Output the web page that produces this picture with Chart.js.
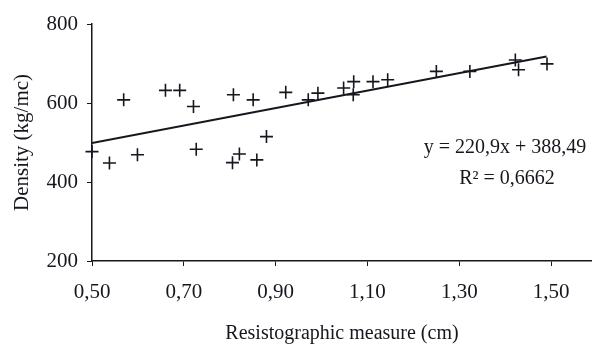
<!DOCTYPE html>
<html>
<head>
<meta charset="utf-8">
<script src="https://cdn.jsdelivr.net/npm/chart.js@4/dist/chart.umd.min.js"></script>
<style>
  html, body { margin: 0; padding: 0; background: #fff; }
  #wrap { width: 592px; height: 346px; }
</style>
</head>
<body>
<div id="wrap"><canvas id="c" width="592" height="346"></canvas></div>
<script>
// Data
const resistX = [0.50, 0.538, 0.569, 0.599, 0.660, 0.691, 0.721, 0.727, 0.808, 0.806, 0.821, 0.851, 0.859, 0.880, 0.922, 0.971, 0.992, 1.048, 1.070, 1.069, 1.112, 1.144, 1.250, 1.323, 1.422, 1.429, 1.491];
const densityY = [477, 448, 608, 469, 632, 632, 591, 483, 621, 449, 471, 608, 456, 515, 627, 608, 625, 638, 654, 621, 654, 659, 680, 680, 709, 684, 699];
const trendX = [0.50, 1.49];
const trendY = [498.9, 717.6];
const xTickValues = [0.50, 0.70, 0.90, 1.10, 1.30, 1.50];
const yTickValues = [200, 400, 600, 800];
const equationText = 'y = 220,9x + 388,49';
const r2Text = 'R² = 0,6662';

const ink = '#16161e';
const serif = "'Liberation Serif', 'DejaVu Serif', serif";

const annotate = {
  id: 'annotate',
  afterDraw(chart) {
    const ctx = chart.ctx;
    ctx.save();
    ctx.fillStyle = ink;
    ctx.font = '20px ' + serif;
    ctx.textAlign = 'center';
    ctx.textBaseline = 'middle';
    ctx.fillText(equationText, 505, 148);
    ctx.fillText(r2Text, 507, 179);
    ctx.restore();
  }
};

new Chart(document.getElementById('c'), {
  type: 'scatter',
  data: {
    datasets: [
      {
        label: 'Density',
        data: resistX.map((x, i) => ({ x: x, y: densityY[i] })),
        pointStyle: 'cross',
        pointRadius: 6.5,
        pointBorderWidth: 1.6,
        borderColor: ink,
        backgroundColor: ink,
        showLine: false,
        clip: false
      },
      {
        label: 'Trend',
        type: 'line',
        data: trendX.map((x, i) => ({ x: x, y: trendY[i] })),
        borderColor: ink,
        borderWidth: 2,
        pointRadius: 0,
        fill: false
      }
    ]
  },
  options: {
    responsive: false,
    animation: false,
    events: [],
    layout: { autoPadding: false, padding: { top: 24, right: 0, bottom: 0, left: 0 } },
    plugins: { legend: { display: false }, tooltip: { enabled: false } },
    scales: {
      x: {
        type: 'linear',
        min: 0.5,
        max: 1.589,
        afterBuildTicks(scale) { scale.ticks = xTickValues.map(v => ({ value: v })); },
        afterFit(scale) { scale.height = 85; scale.paddingLeft = 0; scale.paddingRight = 0; },
        ticks: {
          color: ink,
          font: { family: serif, size: 21 },
          padding: 14,
          maxRotation: 0,
          autoSkip: false,
          callback: v => Number(v).toFixed(2).replace('.', ',')
        },
        grid: { drawOnChartArea: false, tickLength: 5, color: ink, lineWidth: 1 },
        border: { color: ink, width: 1.5 },
        title: {
          display: true,
          text: 'Resistographic measure (cm)',
          color: ink,
          font: { family: serif, size: 20 },
          padding: { top: -3, bottom: 0 }
        }
      },
      y: {
        min: 200,
        max: 800,
        afterBuildTicks(scale) { scale.ticks = yTickValues.map(v => ({ value: v })); },
        afterFit(scale) { scale.width = 92; },
        ticks: {
          color: ink,
          font: { family: serif, size: 21 },
          padding: 9,
          callback: v => String(v)
        },
        grid: { drawOnChartArea: false, tickLength: 5, color: ink, lineWidth: 1 },
        border: { color: ink, width: 1.5 },
        title: {
          display: true,
          text: 'Density (kg/mc)',
          color: ink,
          font: { family: serif, size: 21 },
          padding: { top: 10, bottom: 0 }
        }
      }
    }
  },
  plugins: [annotate]
});
</script>
</body>
</html>
